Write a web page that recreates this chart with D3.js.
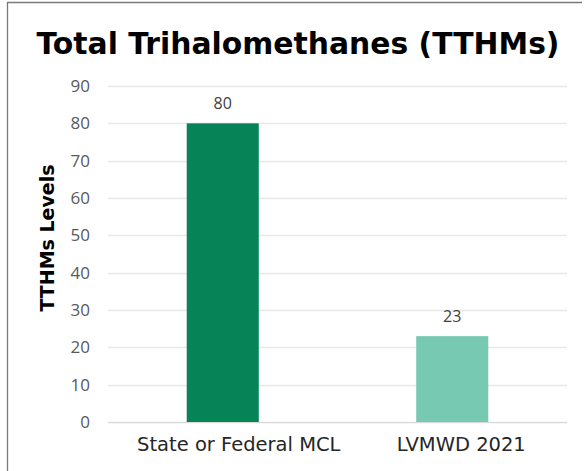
<!DOCTYPE html>
<html>
<head>
<meta charset="utf-8">
<script src="https://cdn.jsdelivr.net/npm/d3@7"></script>
<style>
  body { margin: 0; background: #fff; }
  #chart { width: 586px; height: 471px; }
</style>
</head>
<body>
<div id="chart"></div>
<script>
// data
const categories = ["State or Federal MCL", "LVMWD 2021"];
const values = [80, 23];
const barColors = ["#078457", "#78c9b1"];
const yTicks = [0, 10, 20, 30, 40, 50, 60, 70, 80, 90];

const W = 586, H = 471;
const margin = { top: 86, right: 19, bottom: 49, left: 108 };
const width = W - margin.left - margin.right;
const height = H - margin.top - margin.bottom;

const root = d3.select("#chart").append("svg")
  .attr("width", W)
  .attr("height", H);

// frame (left + top edges)
root.append("path")
  .attr("d", "M7.5,471 V2.5 H582")
  .attr("fill", "none")
  .attr("stroke", "#7a7a7a")
  .attr("stroke-width", 1.3);

// title - shrink font until it fits the original's width
const title = root.append("text")
  .attr("x", 298)
  .attr("y", 54)
  .attr("text-anchor", "middle")
  .style("font-family", "'DejaVu Sans', sans-serif")
  .style("font-weight", "bold")
  .style("font-size", "34px")
  .style("fill", "#000")
  .text("Total Trihalomethanes (TTHMs)");
const tw = title.node().getComputedTextLength();
if (tw > 523) title.style("font-size", (34 * 523 / tw).toFixed(1) + "px");

const svg = root.append("g")
  .attr("transform", `translate(${margin.left},${margin.top})`);

// scales
const x = d3.scaleBand()
  .domain(categories)
  .range([0, width])
  .paddingInner(0.686)
  .paddingOuter(0.343);

const y = d3.scaleLinear()
  .domain([0, 90])
  .range([height, 0]);

// gridlines
svg.append("g")
  .selectAll("line")
  .data(yTicks)
  .enter()
  .append("line")
  .attr("x1", 0)
  .attr("x2", width)
  .attr("y1", d => Math.round(y(d)) + 0.5)
  .attr("y2", d => Math.round(y(d)) + 0.5)
  .attr("stroke", d => d === 0 ? "#d9d9d9" : "#e8e8e8")
  .attr("stroke-width", 1.3);

// y axis
const yAxis = svg.append("g")
  .call(d3.axisLeft(y).tickValues(yTicks).tickSize(0).tickPadding(18));
yAxis.select(".domain").remove();
yAxis.selectAll("text")
  .style("font-family", "'Open Sans', 'Noto Sans', sans-serif")
  .style("font-size", "17px")
  .style("fill", "#595959");

// x axis (labels sit a little right of the bar centres in the original)
const xAxis = svg.append("g")
  .attr("transform", `translate(0,${height})`)
  .call(d3.axisBottom(x).tickSize(0).tickPadding(15));
xAxis.select(".domain").remove();
xAxis.selectAll("text")
  .attr("dx", (d, i) => i === 0 ? 16 : 9)
  .style("font-family", "'DejaVu Sans', sans-serif")
  .style("font-size", "19.5px")
  .style("fill", "#262626");

// bars
const data = categories.map((c, i) => ({ cat: c, val: values[i], color: barColors[i] }));

svg.selectAll("rect.bar")
  .data(data)
  .enter()
  .append("rect")
  .attr("class", "bar")
  .attr("x", d => x(d.cat))
  .attr("y", d => y(d.val))
  .attr("width", x.bandwidth())
  .attr("height", d => height - y(d.val))
  .style("fill", d => d.color);

// value labels
svg.selectAll("text.val")
  .data(data)
  .enter()
  .append("text")
  .attr("class", "val")
  .attr("x", d => x(d.cat) + x.bandwidth() / 2)
  .attr("y", d => y(d.val) - 14)
  .attr("text-anchor", "middle")
  .style("font-family", "'Open Sans', 'Noto Sans', sans-serif")
  .style("font-size", "16px")
  .style("fill", "#404040")
  .text(d => d.val);

// y axis title
root.append("text")
  .attr("transform", "translate(54,238) rotate(-90)")
  .attr("text-anchor", "middle")
  .style("font-family", "'DejaVu Sans', sans-serif")
  .style("font-weight", "bold")
  .style("font-size", "19px")
  .style("fill", "#000")
  .text("TTHMs Levels");
</script>
</body>
</html>
